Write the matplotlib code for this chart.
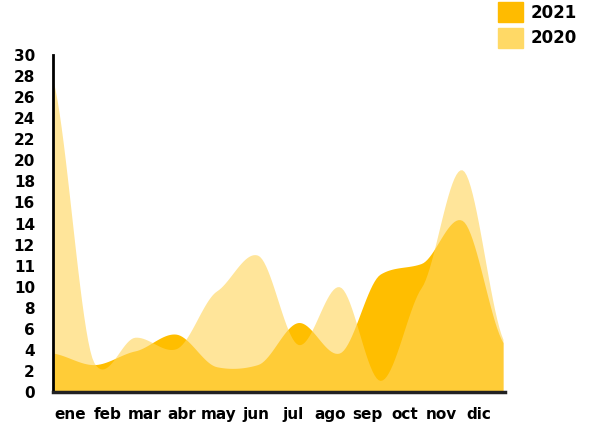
import matplotlib
matplotlib.use('Agg')
import matplotlib.pyplot as plt
from matplotlib.patches import Patch
import numpy as np

months = ['ene', 'feb', 'mar', 'abr', 'may', 'jun',
          'jul', 'ago', 'sep', 'oct', 'nov', 'dic']
vals_2020 = [27.6, 2.8, 5.2, 4.1, 9.6, 11.5, 4.5, 10.0, 1.1, 9.9, 19.1, 5.0]
vals_2021 = [3.7, 2.6, 3.9, 5.5, 2.4, 2.6, 6.6, 3.7, 10.6, 11.1, 14.3, 4.7]
ytick_vals = [0, 2, 4, 6, 8, 10, 11, 12, 14, 16, 18, 20, 22, 24, 26, 28, 30]

c2021 = '#FFBE00'
c2020 = '#FFD55B'

plt.rcParams['font.family'] = ['DejaVu Sans']


def to_pos(v):
    # axis labels are evenly spaced but not evenly valued
    return np.interp(v, ytick_vals, np.arange(len(ytick_vals)))


def smooth(y, n=20, tension=0.45):
    # cardinal spline through the points, for drawing only
    y = np.asarray(y, float)
    p = np.concatenate([[2 * y[0] - y[1]], y, [2 * y[-1] - y[-2]]])
    m = (1 - tension) * (p[2:] - p[:-2]) / 2
    xs, ys = [], []
    t = np.linspace(0, 1, n, endpoint=False)
    h00 = 2 * t ** 3 - 3 * t ** 2 + 1
    h10 = t ** 3 - 2 * t ** 2 + t
    h01 = -2 * t ** 3 + 3 * t ** 2
    h11 = t ** 3 - t ** 2
    for i in range(len(y) - 1):
        xs.append(i + t)
        ys.append(h00 * y[i] + h10 * m[i] + h01 * y[i + 1] + h11 * m[i + 1])
    xs.append([len(y) - 1])
    ys.append([y[-1]])
    return np.concatenate(xs), np.clip(np.concatenate(ys), 0, None)


fig = plt.figure(figsize=(5.92, 4.32), dpi=100)
ax = fig.add_axes([53 / 592, 40 / 432, 452 / 592, 337 / 432])

x21, y21 = smooth(to_pos(vals_2021))
x20, y20 = smooth(to_pos(vals_2020))
ax.fill_between(x21, 0, y21, color=c2021, lw=0)
ax.fill_between(x20, 0, y20, color=c2020, alpha=0.615, lw=0)

ax.set_xlim(0, 11.05)
ax.set_ylim(0, 16)
ax.set_xticks(0.416 + 0.909 * np.arange(len(months)))
ax.set_xticklabels(months)
ax.set_yticks(np.arange(len(ytick_vals)))
ax.set_yticklabels([str(v) for v in ytick_vals])
ax.tick_params(length=0, labelsize=11)
ax.tick_params(axis='x', pad=11)
ax.tick_params(axis='y', pad=13)
for lab in ax.get_xticklabels() + ax.get_yticklabels():
    lab.set_fontweight('bold')

for s in ['top', 'right']:
    ax.spines[s].set_visible(False)
ax.spines['left'].set_linewidth(2)
ax.spines['bottom'].set_linewidth(2.5)
ax.spines['bottom'].set_color('#222222')

handles = [Patch(color='#FFBB00', label='2021'), Patch(color='#FFD966', label='2020')]
fig.legend(handles=handles, loc='upper left', bbox_to_anchor=(498 / 592, 1 - 2 / 432),
           frameon=False, handlelength=1.5, handleheight=1.5,
           handletextpad=0.45, labelspacing=0.32, borderpad=0, borderaxespad=0,
           prop={'weight': 'bold', 'size': 12})

fig.savefig('out.png', dpi=100)
